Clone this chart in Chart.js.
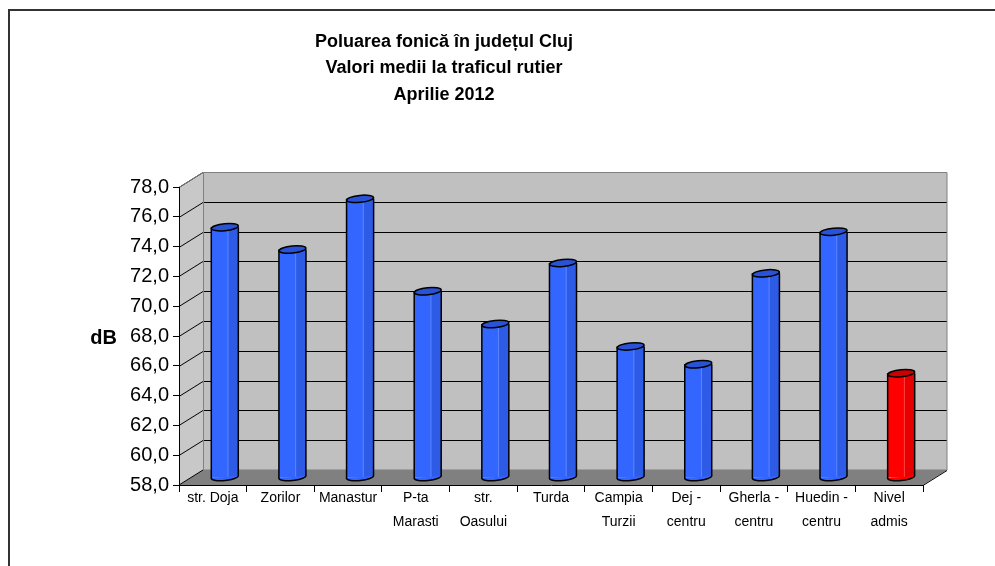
<!DOCTYPE html>
<html>
<head>
<meta charset="utf-8">
<script src="https://cdn.jsdelivr.net/npm/chart.js@4.4.1/dist/chart.umd.min.js"></script>
<style>
  html, body { margin: 0; padding: 0; background: #fff; }
  #wrap { width: 995px; height: 566px; }
</style>
</head>
<body>
<div id="wrap"><canvas id="myChart"></canvas></div>
<script>
const categories = [['str. Doja'], ['Zorilor'], ['Manastur'], ['P-ta', 'Marasti'], ['str.', 'Oasului'],
  ['Turda'], ['Campia', 'Turzii'], ['Dej -', 'centru'], ['Gherla -', 'centru'], ['Huedin -', 'centru'], ['Nivel', 'admis']];
const values = [74.8, 73.3, 76.7, 70.5, 68.3, 72.4, 66.8, 65.6, 71.7, 74.5, 65.0];
const barColors = ['#3366ff', '#3366ff', '#3366ff', '#3366ff', '#3366ff', '#3366ff', '#3366ff', '#3366ff', '#3366ff', '#3366ff', '#ff0000'];
const titleLines = ['Poluarea fonică în județul Cluj', 'Valori medii la traficul rutier', 'Aprilie 2012'];
const yTitle = 'dB';
const yMin = 58, yMax = 78, yStep = 2;

/* depth of the 3d box */
const DX = 24, DY = 15;

function shade(hex) {
  return hex === '#ff0000' ? { side: '#e60000', top: '#cc0000', hi: '#ff4040' } : { side: '#2d5be6', top: '#2a52d4', hi: '#5a86ff' };
}

const box3d = {
  id: 'box3d',
  beforeDraw(chart) {
    const { ctx, chartArea: a, scales: { y } } = chart;
    const top = y.getPixelForValue(yMax), bot = y.getPixelForValue(yMin);
    ctx.save();
    // side wall
    ctx.fillStyle = '#c8c8c8';
    ctx.beginPath();
    ctx.moveTo(a.left, top); ctx.lineTo(a.left + DX, top - DY);
    ctx.lineTo(a.left + DX, bot - DY); ctx.lineTo(a.left, bot); ctx.closePath();
    ctx.fill();
    // back wall
    ctx.fillStyle = '#c0c0c0';
    ctx.fillRect(a.left + DX, top - DY, a.right - a.left, bot - top);
    // floor
    ctx.fillStyle = '#808080';
    ctx.beginPath();
    ctx.moveTo(a.left, bot); ctx.lineTo(a.left + DX, bot - DY);
    ctx.lineTo(a.right + DX, bot - DY); ctx.lineTo(a.right, bot); ctx.closePath();
    ctx.fill();
    // gridlines
    ctx.strokeStyle = '#000';
    ctx.lineWidth = 1;
    for (let v = yMin + yStep; v <= yMax; v += yStep) {
      const py = Math.round(y.getPixelForValue(v)) + 0.5;
      ctx.beginPath();
      ctx.moveTo(a.left, py); ctx.lineTo(a.left + DX, py - DY);
      if (v < yMax) ctx.lineTo(a.right + DX, py - DY);
      ctx.stroke();
    }
    // outline of walls
    ctx.strokeStyle = '#808080';
    ctx.beginPath();
    ctx.moveTo(a.left, top + 0.5); ctx.lineTo(a.left + DX, top - DY + 0.5);
    ctx.lineTo(a.right + DX, top - DY + 0.5); ctx.lineTo(a.right + DX, bot - DY);
    ctx.moveTo(a.left + DX + 0.5, top - DY); ctx.lineTo(a.left + DX + 0.5, bot - DY);
    ctx.lineTo(a.right + DX, bot - DY);
    ctx.stroke();
    ctx.strokeStyle = '#000';
    ctx.beginPath();
    ctx.moveTo(a.right, bot + 0.5); ctx.lineTo(a.right + DX, bot - DY + 0.5);
    ctx.moveTo(a.left, bot); ctx.lineTo(a.left + DX, bot - DY);
    ctx.stroke();
    ctx.restore();
  },
  beforeDatasetsDraw(chart) {
    chart.ctx.save();
    chart.ctx.translate(DX / 2, -DY / 2);
  },
  afterDatasetsDraw(chart) {
    const { ctx } = chart;
    const meta = chart.getDatasetMeta(0);
    meta.data.forEach((bar, i) => {
      const c = shade(barColors[i]);
      const r = bar.width / 2, ry = 3.5, rot = -0.1;
      const x = bar.x, t = bar.y, b = bar.base;
      // darker right part of the cylinder
      ctx.fillStyle = c.side;
      ctx.fillRect(x + r * 0.25, t, r * 0.75, b - t);
      ctx.fillStyle = c.hi;
      ctx.fillRect(x + r * 0.2, t, 1, b - t);
      // bottom cap
      ctx.fillStyle = barColors[i];
      ctx.beginPath();
      ctx.ellipse(x, b, r, ry, rot, 0, Math.PI);
      ctx.fill();
      // outline
      ctx.strokeStyle = '#000';
      ctx.lineWidth = 1.5;
      ctx.beginPath();
      ctx.moveTo(x - r, t); ctx.lineTo(x - r, b + r * Math.sin(-rot));
      ctx.ellipse(x, b, r, ry, rot, Math.PI, 0, true);
      ctx.lineTo(x + r, t);
      ctx.stroke();
      // top cap
      ctx.fillStyle = c.top;
      ctx.beginPath();
      ctx.ellipse(x, t, r, ry, rot, 0, Math.PI * 2);
      ctx.fill();
      ctx.stroke();
    });
    ctx.restore();
  },
  afterDraw(chart) {
    const { ctx } = chart;
    ctx.save();
    ctx.fillStyle = '#000';
    ctx.textAlign = 'center';
    ctx.textBaseline = 'middle';
    ctx.font = 'bold 18px "Liberation Sans", Arial, sans-serif';
    titleLines.forEach((line, i) => ctx.fillText(line, 444, 42 + i * 26.5));
    ctx.font = 'bold 20px "Liberation Sans", Arial, sans-serif';
    ctx.fillText(yTitle, 103.5, 338);
    // frame of the picture
    ctx.strokeStyle = '#333';
    ctx.lineWidth = 2;
    ctx.strokeRect(9, 10, 1200, 1200);
    ctx.restore();
  }
};

const ctx = document.getElementById('myChart');

new Chart(ctx, {
  type: 'bar',
  data: {
    labels: categories,
    datasets: [{
      data: values,
      base: yMin,
      backgroundColor: barColors,
      borderWidth: 0,
      barPercentage: 0.4,
      categoryPercentage: 1,
      clip: false
    }]
  },
  options: {
    responsive: true,
    maintainAspectRatio: false,
    animation: false,
    devicePixelRatio: 1,
    layout: { padding: { left: 0, right: 72, top: 187, bottom: 0 } },
    plugins: { legend: { display: false }, title: { display: false }, tooltip: { enabled: false } },
    scales: {
      x: {
        afterFit(scale) { scale.height = 81; },
        grid: { offset: true, drawOnChartArea: false, drawTicks: true, tickLength: 7, color: '#000' },
        border: { display: true, color: '#000', width: 1 },
        ticks: {
          color: '#000', maxRotation: 0, autoSkip: false, padding: -6,
          font: { family: '"Liberation Sans", Arial, sans-serif', size: 14, lineHeight: '24px' }
        }
      },
      y: {
        min: yMin, max: yMax,
        beginAtZero: false,
        afterFit(scale) { scale.width = 179; },
        grid: { drawOnChartArea: false, drawTicks: true, tickLength: 6, color: '#000' },
        border: { display: true, color: '#000', width: 1 },
        ticks: {
          stepSize: yStep, color: '#000', padding: 4,
          font: { family: '"Liberation Sans", Arial, sans-serif', size: 20 },
          callback: v => v.toFixed(1).replace('.', ',')
        }
      }
    }
  },
  plugins: [box3d]
});
</script>
</body>
</html>
